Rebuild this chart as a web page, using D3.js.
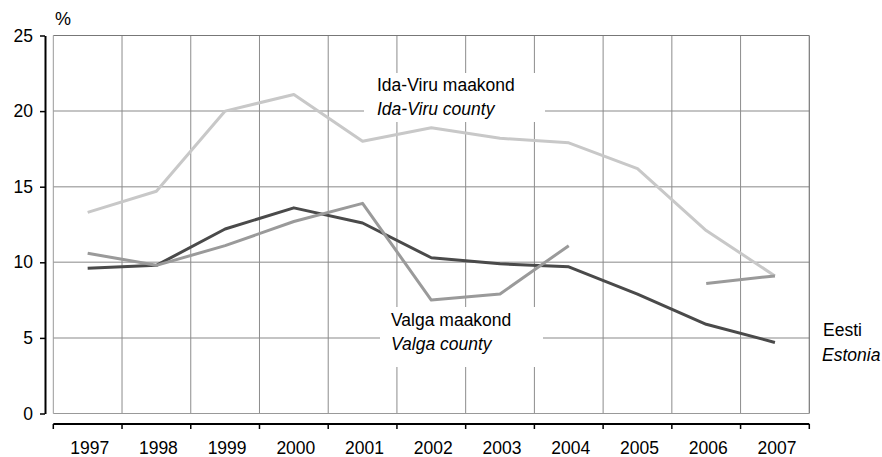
<!DOCTYPE html>
<html>
<head>
<meta charset="utf-8">
<script src="https://cdn.jsdelivr.net/npm/d3@7"></script>
<style>
  body { margin: 0; background: #fff; }
  svg { font-family: "Liberation Sans", Arial, sans-serif; }
</style>
</head>
<body>
<div id="chart"></div>
<script>
// data
const years = ["1997", "1998", "1999", "2000", "2001", "2002", "2003", "2004", "2005", "2006", "2007"];
const idaViru = [13.3, 14.7, 20.0, 21.1, 18.0, 18.9, 18.2, 17.9, 16.2, 12.1, 9.1];
const valga = [10.6, 9.8, 11.1, 12.7, 13.9, 7.5, 7.9, 11.1, null, 8.6, 9.1];
const eesti = [9.6, 9.8, 12.2, 13.6, 12.6, 10.3, 9.9, 9.7, 7.9, 5.9, 4.7];
const yTicks = [0, 5, 10, 15, 20, 25];

const width = 882, height = 457;
const plotLeft = 53.3, plotRight = 809.3, plotTop = 35.5, plotBottom = 413.5;
const fs = 17.5;

const svg = d3.select("#chart").append("svg")
  .attr("width", width).attr("height", height);

const x = d3.scaleBand().domain(years).range([plotLeft, plotRight]).padding(0);
const y = d3.scaleLinear().domain([0, 25]).range([plotBottom, plotTop]);
const cx = (d, i) => x(years[i]) + x.bandwidth() / 2;

// grid
const grid = svg.append("g");
grid.selectAll("line.h").data(yTicks.filter(t => t > 0 && t < 25)).join("line")
  .attr("x1", plotLeft).attr("x2", plotRight)
  .attr("y1", d => y(d)).attr("y2", d => y(d))
  .attr("stroke", "#b0b0b0").attr("stroke-width", 1.5);
grid.selectAll("line.v").data(years.slice(1)).join("line")
  .attr("x1", d => x(d)).attr("x2", d => x(d))
  .attr("y1", plotTop).attr("y2", plotBottom)
  .attr("stroke", "#8c8c8c").attr("stroke-width", 1);
// frame
grid.append("line").attr("x1", plotLeft).attr("x2", plotRight).attr("y1", y(25)).attr("y2", y(25))
  .attr("stroke", "#777").attr("stroke-width", 1.2);
grid.append("line").attr("x1", plotRight).attr("x2", plotRight).attr("y1", plotTop).attr("y2", plotBottom)
  .attr("stroke", "#777").attr("stroke-width", 1.2);
grid.append("line").attr("x1", plotLeft).attr("x2", plotRight).attr("y1", y(0)).attr("y2", y(0))
  .attr("stroke", "#999").attr("stroke-width", 1.2);
grid.append("line").attr("x1", plotLeft).attr("x2", plotLeft).attr("y1", plotTop).attr("y2", plotBottom)
  .attr("stroke", "#999").attr("stroke-width", 1);

// white boxes behind the labels
svg.append("rect").attr("x", 364).attr("y", 73).attr("width", 181).attr("height", 49).attr("fill", "#fff");
svg.append("rect").attr("x", 380).attr("y", 307).attr("width", 163).attr("height", 60).attr("fill", "#fff");

// y axis
const yAxis = svg.append("g").attr("transform", "translate(45,0)")
  .call(d3.axisLeft(y).tickValues(yTicks).tickSize(5).tickSizeOuter(0).tickPadding(7));
yAxis.select(".domain").attr("stroke", "#000").attr("stroke-width", 2);
yAxis.selectAll(".tick line").attr("stroke", "#000").attr("stroke-width", 1.5);
yAxis.selectAll("text").attr("font-size", fs).attr("fill", "#000")
  .attr("font-family", "Liberation Sans, Arial, sans-serif");

svg.append("text").attr("x", 55).attr("y", 25).attr("font-size", 18).text("%");

// x axis
const xAxisY = 424;
const xAxis = svg.append("g");
xAxis.append("line").attr("x1", plotLeft).attr("x2", plotRight).attr("y1", xAxisY).attr("y2", xAxisY)
  .attr("stroke", "#000").attr("stroke-width", 2);
xAxis.selectAll("line.tk").data([...years.map(d => x(d)), plotRight]).join("line")
  .attr("x1", d => d).attr("x2", d => d).attr("y1", xAxisY).attr("y2", xAxisY + 5)
  .attr("stroke", "#000").attr("stroke-width", 1.5);
xAxis.selectAll("text").data(years).join("text")
  .attr("x", d => x(d) + x.bandwidth() / 2 + 2)
  .attr("y", 454)
  .attr("text-anchor", "middle")
  .attr("font-size", fs)
  .text(d => d);

// lines
const line = d3.line()
  .defined(d => d != null)
  .x(cx)
  .y(d => y(d));

const series = [
  { values: idaViru, color: "#c8c8c8" },
  { values: eesti, color: "#4a4a4a" },
  { values: valga, color: "#9a9a9a" }
];
svg.append("g").selectAll("path").data(series).join("path")
  .attr("d", d => line(d.values))
  .attr("fill", "none")
  .attr("stroke", d => d.color)
  .attr("stroke-width", 3)
  .attr("stroke-linejoin", "round");

// labels
const labels = [
  { x: 377, y: 91, text: "Ida-Viru maakond", italic: false },
  { x: 377, y: 115, text: "Ida-Viru county", italic: true },
  { x: 391, y: 326, text: "Valga maakond", italic: false },
  { x: 391, y: 350, text: "Valga county", italic: true },
  { x: 823, y: 336, text: "Eesti", italic: false },
  { x: 822, y: 361, text: "Estonia", italic: true }
];
svg.append("g").selectAll("text").data(labels).join("text")
  .attr("x", d => d.x).attr("y", d => d.y)
  .attr("font-size", fs)
  .attr("font-style", d => d.italic ? "italic" : "normal")
  .text(d => d.text);
</script>
</body>
</html>
